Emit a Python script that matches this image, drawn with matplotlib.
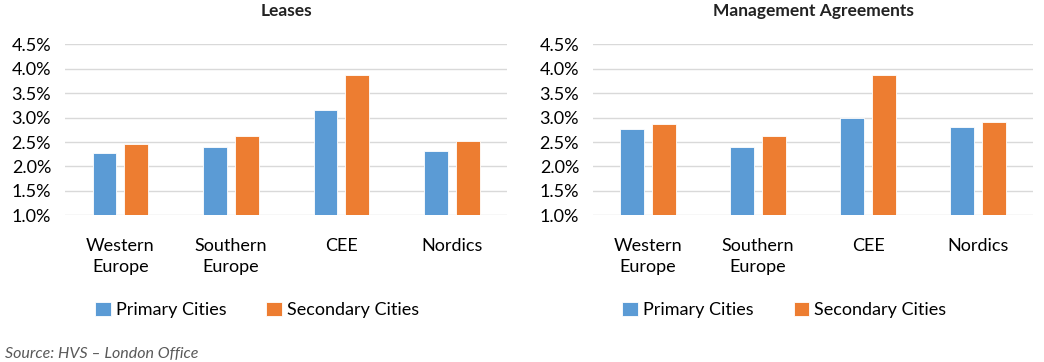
import numpy as np
import matplotlib
matplotlib.use("Agg")
import matplotlib.pyplot as plt
from matplotlib.ticker import FuncFormatter

plt.rcParams['font.family'] = ['Lato', 'DejaVu Sans']

regions = ["Western\nEurope", "Southern\nEurope", "CEE", "Nordics"]
series = ["Primary Cities", "Secondary Cities"]
leases_primary = [2.28, 2.39, 3.16, 2.32]
leases_secondary = [2.45, 2.63, 3.86, 2.53]
mgmt_primary = [2.77, 2.39, 2.99, 2.80]
mgmt_secondary = [2.87, 2.63, 3.86, 2.91]
titles = ["Leases", "Management Agreements"]

blue = "#5B9BD5"
orange = "#ED7D31"

fig = plt.figure(figsize=(10.44, 3.62), dpi=100)
ax1 = fig.add_axes([0.0623, 0.405, 0.4234, 0.473])
ax2 = fig.add_axes([0.568, 0.405, 0.4215, 0.473])

x = np.arange(len(regions))
w = 0.217
off = 0.143

for ax, title, prim, sec in [(ax1, titles[0], leases_primary, leases_secondary),
                             (ax2, titles[1], mgmt_primary, mgmt_secondary)]:
    ax.bar(x - off, np.array(prim) - 1.0, w, bottom=1.0, color=blue,
           edgecolor="white", linewidth=0.6, label=series[0], zorder=3)
    ax.bar(x + off, np.array(sec) - 1.0, w, bottom=1.0, color=orange,
           edgecolor="white", linewidth=0.6, label=series[1], zorder=3)
    ax.set_ylim(1.0, 4.5)
    ax.set_xlim(-0.5, 3.5)
    ax.set_yticks(np.arange(1.0, 4.51, 0.5))
    ax.yaxis.set_major_formatter(FuncFormatter(lambda v, p: f"{v:.1f}%"))
    ax.set_xticks(x)
    ax.set_xticklabels(regions, linespacing=1.45)
    ax.tick_params(axis="both", length=0, labelsize=13, colors="#000000")
    ax.tick_params(axis="x", pad=16)
    ax.tick_params(axis="y", pad=10)
    ax.grid(axis="y", color="#D9D9D9", linewidth=1, zorder=0)
    for s in ax.spines.values():
        s.set_visible(False)
    ax.set_title(title, fontsize=12.5, fontweight="bold", pad=20, color="#222222")
    ax.legend(loc="upper center", bbox_to_anchor=(0.435, -0.41), ncol=2,
              frameon=False, fontsize=13, handlelength=0.85, handleheight=0.85,
              handletextpad=0.3, columnspacing=2.2)

fig.text(0.005, 0.012, "Source: HVS \u2013 London Office", fontsize=11.5,
         style="italic", color="#595959")

fig.savefig("out.png", dpi=100)
